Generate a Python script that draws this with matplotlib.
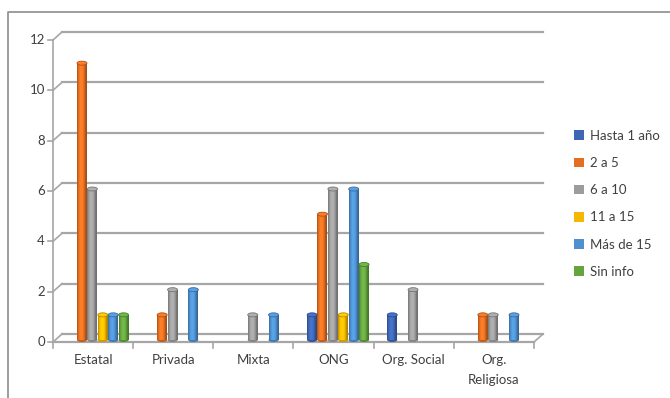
import numpy as np
import matplotlib
matplotlib.use("Agg")
import matplotlib.pyplot as plt
from matplotlib import transforms
from matplotlib.patches import Ellipse, Rectangle, Patch
from matplotlib.colors import to_rgb

plt.rcParams['font.family'] = ['Lato', 'DejaVu Sans']

categories = ["Estatal", "Privada", "Mixta", "ONG", "Org. Social", "Org.\nReligiosa"]
series = ["Hasta 1 año", "2 a 5", "6 a 10", "11 a 15", "Más de 15", "Sin info"]
hasta_1 = [0, 0, 0, 1, 1, 0]
de_2_a_5 = [11, 1, 0, 5, 0, 1]
de_6_a_10 = [6, 2, 1, 6, 2, 1]
de_11_a_15 = [1, 0, 0, 1, 0, 0]
mas_de_15 = [1, 2, 1, 6, 0, 1]
sin_info = [1, 0, 0, 3, 0, 0]
values = [hasta_1, de_2_a_5, de_6_a_10, de_11_a_15, mas_de_15, sin_info]
colors = ["#3E66B4", "#E36F22", "#9C9C9C", "#F5B800", "#4F90CF", "#65A53E"]
y_ticks = [0, 2, 4, 6, 8, 10, 12]

W, H = 670, 398
fig = plt.figure(figsize=(W / 100, H / 100), dpi=100)
fig.patch.set_facecolor("white")

# chart frame
frame = fig.add_axes([0, 0, 1, 1], zorder=-5)
frame.set_xlim(0, W)
frame.set_ylim(H, 0)
frame.axis("off")
frame.plot([7.5, 7.5, W], [H, 11.5, 11.5], color="#8C8C8C", lw=1.2)

x0, x1, y0, y1 = 53, 534, 342, 40
ax = fig.add_axes([x0 / W, (H - y0) / H, (x1 - x0) / W, (y0 - y1) / H])
ax.set_xlim(-0.5, len(categories) - 0.5)
ax.set_ylim(0, 12)
ax.axis("off")

grid_col = "#A6A6A6"
dx, dy = 9, 8
back = transforms.offset_copy(ax.transData, fig=fig, x=dx, y=dy, units="dots")
xl = ax.get_xlim()
inv = ax.transData.inverted()

# back wall gridlines, left-wall connectors, y ticks
for v in y_ticks:
    ax.plot(xl, [v, v], color=grid_col, lw=1.6, transform=back, clip_on=False, zorder=1)
    p0 = ax.transData.transform((xl[0], v))
    q = inv.transform(p0 + np.array([dx, dy]))
    ax.plot([xl[0], q[0]], [v, q[1]], color=grid_col, lw=1.2, clip_on=False, zorder=1)
    r = inv.transform(p0 + np.array([-5, 0]))
    ax.plot([r[0], xl[0]], [v, v], color=grid_col, lw=1.2, clip_on=False, zorder=1)
    ax.text(r[0], v, f"{v}", transform=transforms.offset_copy(ax.transData, fig=fig, x=-3, y=0, units="dots"),
            ha="right", va="center", fontsize=9.5, color="#404040")

# front y axis
ax.plot([xl[0], xl[0]], [0, 12], color=grid_col, lw=1.2, clip_on=False, zorder=1)
# floor front edge and right connector
ax.plot(xl, [0, 0], color=grid_col, lw=1.6, clip_on=False, zorder=1)
q = inv.transform(ax.transData.transform((xl[1], 0)) + np.array([dx, dy]))
ax.plot([xl[1], q[0]], [0, q[1]], color=grid_col, lw=1.2, clip_on=False, zorder=1)

# category separators and labels
for i in range(len(categories) + 1):
    b = i - 0.5
    t = inv.transform(ax.transData.transform((b, 0)) + np.array([0, -6]))
    ax.plot([b, b], [0, t[1]], color=grid_col, lw=1.2, clip_on=False, zorder=1)
for i, c in enumerate(categories):
    ax.text(i, 0, c, transform=transforms.offset_copy(ax.transData, fig=fig, x=0, y=-12, units="dots"),
            ha="center", va="top", fontsize=9.5, color="#404040", linespacing=1.85)

# cylinders
px_per_unit_x = (x1 - x0) / len(categories)
px_per_unit_y = (y0 - y1) / 12
bw = 10.4 / px_per_unit_x
shift = 4.5 / px_per_unit_x
base = 2.0 / px_per_unit_y
cap_h = 4.0 / px_per_unit_y
tgrid = np.linspace(0, 1, 64)
shade = 0.72 + 0.42 * np.sin(np.pi * np.clip(tgrid * 1.15, 0, 1)) ** 0.8

for s, (vals, col) in enumerate(zip(values, colors)):
    rgb = np.array(to_rgb(col))
    img = np.clip(rgb[None, None, :] * shade[None, :, None], 0, 1)
    for i, v in enumerate(vals):
        if v <= 0:
            continue
        left = i + shift + (s - 2.5) * bw - bw / 2 + bw * 0.02
        w = bw * 0.96
        rect = Rectangle((left, base), w, v, facecolor="none", edgecolor="none", zorder=3)
        ax.add_patch(rect)
        im = ax.imshow(img, extent=(left, left + w, base, base + v), aspect="auto",
                       zorder=3, interpolation="bilinear")
        im.set_clip_path(rect)
        # rounded bottom and top cap
        ax.add_patch(Ellipse((left + w / 2, base), w, cap_h, facecolor=rgb * 0.85, edgecolor="none", zorder=2.9))
        ax.add_patch(Ellipse((left + w / 2, base + v), w, cap_h,
                             facecolor=np.clip(rgb * 1.12, 0, 1), edgecolor=rgb * 0.75, lw=0.6, zorder=4))
ax.set_xlim(xl)
ax.set_ylim(0, 12)

# legend
handles = [Patch(facecolor=c, edgecolor="none") for c in colors]
fig.legend(handles, series, loc="upper left", bbox_to_anchor=(562 / W, 1 - 118 / H),
           frameon=False, fontsize=9.5, handlelength=0.75, handleheight=0.75,
           handletextpad=0.45, labelspacing=1.15, labelcolor="#404040")

fig.savefig("out.png", dpi=100, facecolor="white")
